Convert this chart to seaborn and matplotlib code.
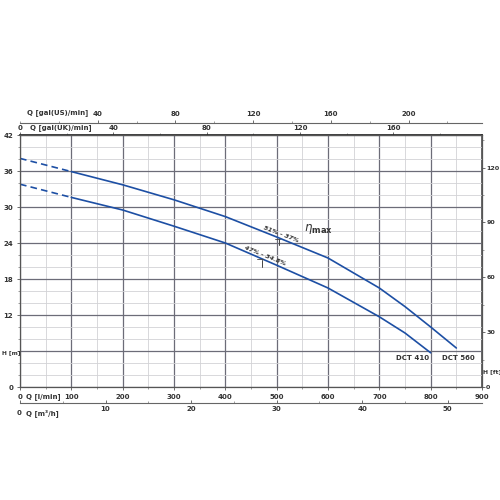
import matplotlib
matplotlib.use("Agg")
import matplotlib.pyplot as plt
import seaborn as sns
import pandas as pd
from matplotlib.ticker import MultipleLocator, FixedLocator

sns.set_theme(style="white")
plt.rcParams['font.family'] = ['DejaVu Sans']

# ---- data ----
q_560 = [0, 100, 200, 300, 400, 500, 600, 700, 750, 800, 850]
h_560 = [38.1, 35.9, 33.7, 31.2, 28.4, 25.0, 21.5, 16.5, 13.4, 10.0, 6.5]
q_410 = [0, 100, 200, 300, 400, 500, 600, 700, 750, 800]
h_410 = [33.8, 31.6, 29.5, 26.8, 24.0, 20.3, 16.5, 11.7, 9.0, 5.7]
n_dashed = 2  # first two points drawn dashed

left_ticks = [0, 6, 12, 18, 24, 30, 36, 42]
left_labels = ['0', '', '12', '18', '24', '30', '36', '42']
ft_ticks = [0, 30, 60, 90, 120]
lmin_ticks = [0, 100, 200, 300, 400, 500, 600, 700, 800, 900]
lmin_labels = ['0', '100', '200', '300', '400', '500', '600', '700', '800', '900']
m3h_ticks = [0, 10, 20, 30, 40, 50]
ukgal_ticks = [0, 40, 80, 120, 160]
usgal_ticks = [40, 80, 120, 160, 200]

BLUE = '#1d4fa4'
TXT = '#333333'
FS = 5

fig = plt.figure(figsize=(5, 5), dpi=100)
fig.patch.set_facecolor('white')
ax = fig.add_axes([0.04, 0.226, 0.924, 0.504])
ax.set_facecolor('white')

def draw(q, h):
    dfd = pd.DataFrame({'Q': q[:n_dashed], 'H': h[:n_dashed]})
    dfs = pd.DataFrame({'Q': q[n_dashed - 1:], 'H': h[n_dashed - 1:]})
    sns.lineplot(data=dfd, x='Q', y='H', ax=ax, color=BLUE, lw=1.2,
                 linestyle=(0, (4, 2.5)), sort=False)
    sns.lineplot(data=dfs, x='Q', y='H', ax=ax, color=BLUE, lw=1.2, sort=False)

draw(q_560, h_560)
draw(q_410, h_410)

ax.set_xlim(0, 900)
ax.set_ylim(0, 42)
ax.set_xlabel('')
ax.set_ylabel('')

ax.xaxis.set_major_locator(FixedLocator(lmin_ticks))
ax.xaxis.set_minor_locator(MultipleLocator(50))
ax.yaxis.set_major_locator(FixedLocator(left_ticks))
ax.yaxis.set_minor_locator(MultipleLocator(2))
ax.set_xticklabels(lmin_labels)
ax.set_yticklabels(left_labels)
ax.grid(which='major', color='#6c6c78', lw=0.9)
ax.grid(which='minor', color='#d2d2d6', lw=0.6)
ax.set_axisbelow(True)
for s in ax.spines.values():
    s.set_color('#555555')
    s.set_linewidth(0.9)

ax.tick_params(axis='both', which='major', labelsize=FS, labelcolor=TXT,
               length=2, width=0.6, color='#555555', direction='out', pad=3)
ax.tick_params(axis='both', which='minor', length=1.5, width=0.5, color='#777777')
ax.tick_params(axis='x', which='both', bottom=True, top=False)
ax.tick_params(axis='y', which='both', left=True, right=False)
for t in ax.get_xticklabels() + ax.get_yticklabels():
    t.set_fontweight('bold')

# right axis: feet
ry = ax.secondary_yaxis('right', functions=(lambda m: m / 0.3048, lambda f: f * 0.3048))
ry.set_yticks(ft_ticks)
ry.yaxis.set_minor_locator(MultipleLocator(15))
ry.tick_params(which='major', labelsize=4.6, labelcolor=TXT, length=2, width=0.6,
               color='#555555', pad=1)
ry.tick_params(which='minor', length=1.5, width=0.5, color='#777777')
ry.spines['right'].set_color('#555555')
for t in ry.get_yticklabels():
    t.set_fontweight('bold')

# bottom second axis: m3/h
bx = ax.secondary_xaxis(-16 / 252, functions=(lambda q: q * 0.06, lambda m: m / 0.06))
bx.set_xticks(m3h_ticks)
bx.set_xticklabels(['', '10', '20', '30', '40', '50'])
bx.xaxis.set_minor_locator(MultipleLocator(5))
bx.tick_params(which='major', labelsize=FS, labelcolor=TXT, length=2.5, width=0.6,
               color='#555555', direction='in', pad=2.5)
bx.tick_params(which='minor', length=1.5, width=0.5, color='#777777', direction='in')
bx.spines['bottom'].set_color('#666666')
bx.spines['bottom'].set_linewidth(0.8)
for t in bx.get_xticklabels():
    t.set_fontweight('bold')

# top: gal(UK)/min on the frame
ukx = ax.secondary_xaxis('top', functions=(lambda q: q / 4.54609, lambda g: g * 4.54609))
ukx.set_xticks(ukgal_ticks)
ukx.set_xticklabels(['0', '40', '80', '120', '160'])
ukx.xaxis.set_minor_locator(MultipleLocator(20))
ukx.tick_params(which='major', labelsize=FS, labelcolor=TXT, length=2, width=0.6,
                color='#555555', pad=1)
ukx.tick_params(which='minor', length=1.5, width=0.5, color='#777777')
for t in ukx.get_xticklabels():
    t.set_fontweight('bold')

# top: gal(US)/min above
usx = ax.secondary_xaxis(1 + 12 / 252, functions=(lambda q: q / 3.78541, lambda g: g * 3.78541))
usx.set_xticks(usgal_ticks)
usx.xaxis.set_minor_locator(MultipleLocator(20))
usx.tick_params(which='major', labelsize=FS, labelcolor=TXT, length=2.5, width=0.6,
                color='#555555', pad=2)
usx.tick_params(which='minor', length=1.5, width=0.5, color='#777777')
usx.spines['top'].set_color('#666666')
usx.spines['top'].set_linewidth(0.8)
for t in usx.get_xticklabels():
    t.set_fontweight('bold')

def ftext(x, y, s, **kw):
    kw.setdefault('fontsize', FS)
    kw.setdefault('color', TXT)
    kw.setdefault('fontweight', 'bold')
    fig.text(x / 500, 1 - y / 500, s, **kw)

ftext(27, 113, 'Q [gal(US)/min]', ha='left', va='center')
ftext(30, 128, 'Q [gal(UK)/min]', ha='left', va='center')
ftext(26, 397, 'Q [l/min]', ha='left', va='center')
ftext(19, 413, '0', ha='center', va='center')
ftext(26, 413, 'Q [m³/h]', ha='left', va='center')
ftext(1.5, 353, 'H [m]', ha='left', va='center', fontsize=4.2)
ftext(483, 372, 'H [ft]', ha='left', va='center', fontsize=4.4)

# curve names
ax.text(764, 4.8, 'DCT 410', fontsize=FS, fontweight='bold', color=TXT,
        ha='center', va='center')
ax.text(854, 4.8, 'DCT 560', fontsize=FS, fontweight='bold', color=TXT,
        ha='center', va='center')

# efficiency annotations
ax.text(508, 25.5, '51% - 37%', fontsize=4.6, color=TXT, rotation=-21,
        ha='center', va='center', style='italic', fontweight='bold')
ax.text(478, 21.9, '47% - 34.8%', fontsize=4.6, color=TXT, rotation=-22,
        ha='center', va='center', style='italic', fontweight='bold')
ax.plot([505, 505], [24.6, 23.6], color='#444444', lw=0.7)
ax.plot([496, 506], [24.7, 24.7], color='#444444', lw=0.6)
ax.plot([472, 472], [21.2, 20.0], color='#444444', lw=0.7)
ax.plot([462, 474], [21.3, 21.3], color='#444444', lw=0.6)
ax.text(553, 26.4, r'$\eta_{\mathbf{max}}$', fontsize=8.5, color=TXT,
        ha='left', va='center')

fig.savefig('out.png', dpi=100, facecolor='white')
